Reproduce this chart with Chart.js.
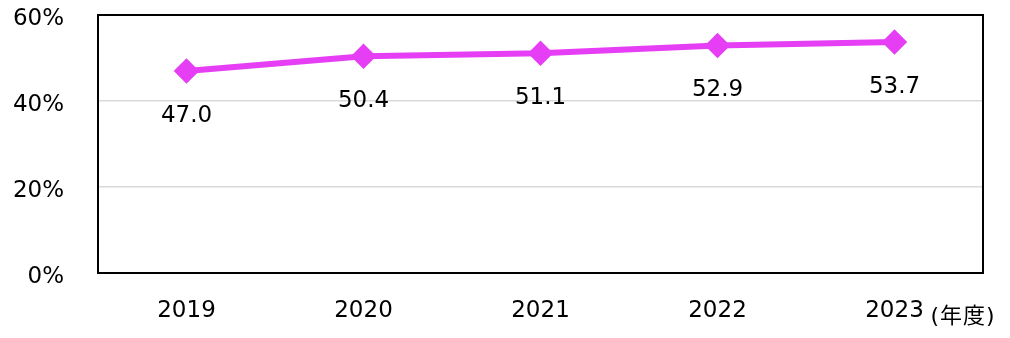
<!DOCTYPE html>
<html lang="ja">
<head>
  <meta charset="UTF-8" />
  <title>年度別推移</title>
  <script src="https://cdn.jsdelivr.net/npm/chart.js"></script>
  <style>
    body {
      margin: 0;
      background: #fff;
    }
    #wrap {
      width: 1010px;
      height: 338px;
    }
  </style>
</head>
<body>
  <div id="wrap">
    <canvas id="grafico" width="1010" height="338"></canvas>
  </div>

  <script>
    const anios = ['2019', '2020', '2021', '2022', '2023'];
    const valores = [47.0, 50.4, 51.1, 52.9, 53.7];
    const ticksY = [0, 20, 40, 60];
    const unidadX = '(年度)';

    const fuente = '"DejaVu Sans", Verdana, sans-serif';

    // marco negro del área y etiquetas de valor bajo cada punto
    const extras = {
      id: 'extras',
      beforeDatasetsDraw(chart) {
        const { ctx, chartArea: a } = chart;
        ctx.save();
        ctx.strokeStyle = '#000';
        ctx.lineWidth = 2;
        ctx.strokeRect(a.left, a.top, a.right - a.left, a.bottom - a.top);
        ctx.restore();
      },
      afterDraw(chart) {
        const { ctx } = chart;
        const meta = chart.getDatasetMeta(0);
        ctx.save();
        ctx.fillStyle = '#000';
        ctx.font = '23px ' + fuente;
        ctx.textAlign = 'center';
        ctx.textBaseline = 'middle';
        meta.data.forEach((p, i) => {
          ctx.fillText(valores[i].toFixed(1), p.x, p.y + 45);
        });
        ctx.font = '22px "DejaVu Sans", "Noto Sans CJK JP", sans-serif';
        ctx.letterSpacing = '1px';
        ctx.textAlign = 'left';
        const x = chart.scales.x;
        ctx.fillText(unidadX, x.getPixelForValue(anios.length - 1) + 36, 317);
        ctx.restore();
      }
    };

    new Chart(document.getElementById('grafico'), {
      type: 'line',
      data: {
        labels: anios,
        datasets: [{
          data: valores,
          borderColor: '#e63ef5',
          backgroundColor: '#e63ef5',
          borderWidth: 6,
          pointStyle: 'rectRot',
          pointRadius: 8.5,
          pointHoverRadius: 8.5,
          fill: false,
          tension: 0
        }]
      },
      options: {
        responsive: false,
        animation: false,
        layout: { padding: { top: 15, right: 27, left: 0, bottom: 0 } },
        plugins: {
          legend: { display: false },
          tooltip: { enabled: false }
        },
        scales: {
          x: {
            offset: true,
            afterFit: s => { s.height = 65; s.paddingTop = 0; s.paddingBottom = 0; },
            grid: { display: false, drawTicks: false },
            border: { display: false },
            ticks: {
              padding: 24,
              color: '#000',
              font: { family: fuente, size: 23 }
            }
          },
          y: {
            min: 0,
            max: 60,
            afterFit: s => { s.width = 98; s.paddingTop = 0; s.paddingBottom = 0; },
            afterBuildTicks: s => { s.ticks = ticksY.map(v => ({ value: v })); },
            grid: {
              drawTicks: false,
              color: c => (c.tick.value === 0 || c.tick.value === 60) ? 'rgba(0,0,0,0)' : '#d9d9d9',
              lineWidth: 1.5
            },
            border: { display: false },
            ticks: {
              padding: 34,
              labelOffset: 4,
              color: '#000',
              font: { family: fuente, size: 23 },
              callback: v => v + '%'
            }
          }
        }
      },
      plugins: [extras]
    });
  </script>
</body>
</html>
